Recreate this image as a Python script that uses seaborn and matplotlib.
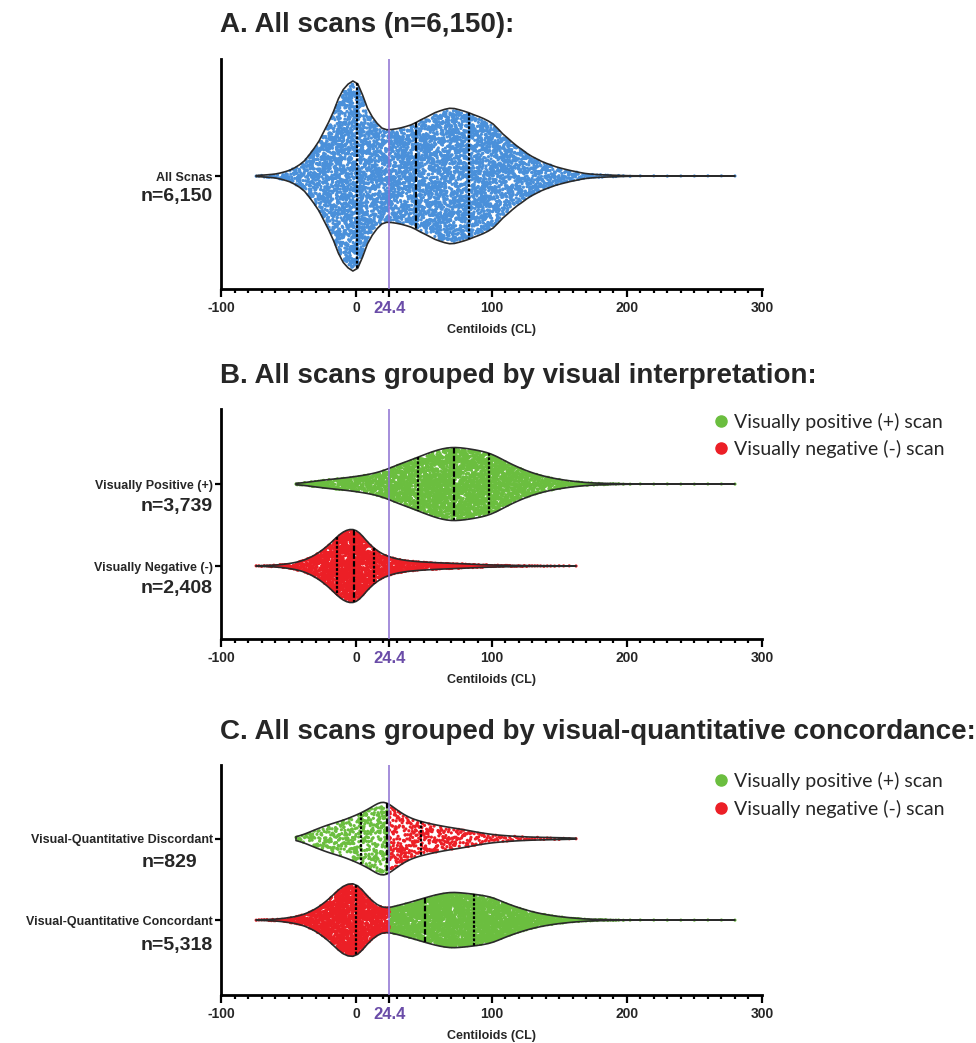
import matplotlib
matplotlib.use('Agg')
import matplotlib.pyplot as plt
from matplotlib.lines import Line2D
from matplotlib.ticker import MultipleLocator
import numpy as np
import pandas as pd
import seaborn as sns

# visual-read threshold on the centiloid scale
threshold = 24.4

# scan counts per 10 CL bin (bin centres)
neg_bins = list(range(-70, 170, 10))
neg_counts = [5, 11, 31, 65, 150, 290, 490, 540, 280, 150, 95, 68,
              55, 45, 37, 30, 21, 14, 10, 7, 5, 4, 3, 2]
pos_bins = list(range(-40, 290, 10))
pos_counts = [11, 31, 48, 61, 79, 101, 134, 200, 248, 306, 359, 392,
              376, 353, 324, 239, 172, 115, 76, 48, 29, 14, 8, 5, 2,
              1, 1, 1, 1, 1, 1, 1, 1]

row_a = ['All Scnas']
row_b = ['Visually Positive (+)', 'Visually Negative (-)']
row_c = ['Visual-Quantitative Discordant', 'Visual-Quantitative Concordant']
n_a = ['n=6,150']
n_b = ['n=3,739', 'n=2,408']
n_c = ['n=829', 'n=5,318']
xticks = [-100, 0, 24.4, 100, 200, 300]
xtick_labels = ['-100', '0', '24.4', '100', '200', '300']
legend_labels = ['Visually positive (+) scan', 'Visually negative (-) scan']

BLUE = '#4A90DA'
GREEN = '#6BBE3F'
RED = '#EC1F26'
PURPLE = '#8C6FD1'
PURPLE_TXT = '#6A4CA8'
JITTER = 0.4


def expand(bins, counts, width=10):
    parts = [c - width / 2 + (np.arange(n) + 0.5) * width / n for c, n in zip(bins, counts)]
    return np.concatenate(parts)


neg = expand(neg_bins, neg_counts)
pos = expand(pos_bins, pos_counts)
cl = np.concatenate([pos, neg])
read = np.array(['pos'] * len(pos) + ['neg'] * len(neg))
concordant = np.where(read == 'pos', cl >= threshold, cl < threshold)

df_a = pd.DataFrame({'cl': cl, 'read': read, 'row': row_a[0]})
df_b = pd.DataFrame({'cl': cl, 'read': read, 'row': np.where(read == 'pos', row_b[0], row_b[1])})
df_c = pd.DataFrame({'cl': cl, 'read': read, 'row': np.where(concordant, row_c[1], row_c[0])})

sns.set_style('ticks')
plt.rcParams['font.family'] = ['Liberation Sans', 'DejaVu Sans']
plt.rcParams['font.weight'] = 'bold'

W, H = 976, 1043
fig = plt.figure(figsize=(W / 100, H / 100), dpi=100)


def px_rect(left, top, right, bottom):
    return [left / W, 1 - bottom / H, (right - left) / W, (bottom - top) / H]


panels = [
    dict(df=df_a, order=row_a, nlab=n_a, rect=px_rect(221, 59, 762, 289),
         ylim=(1.378, -1.427), width=2.317, bw=0.45,
         colors={'pos': BLUE, 'neg': BLUE}, title='A. All scans (n=6,150):', title_y=32,
         n_off=[(-5.8, -15)], legend=None),
    dict(df=df_b, order=row_b, nlab=n_b, rect=px_rect(221, 409, 762, 639),
         ylim=(1.89, -0.915), width=0.89, bw=0.8,
         colors={'pos': GREEN, 'neg': RED}, title='B. All scans grouped by visual interpretation:',
         title_y=383, n_off=[(-5.8, -16.5), (-5.8, -16.5)], legend=(0.906, 0.985)),
    dict(df=df_c, order=row_c, nlab=n_c, rect=px_rect(221, 765, 762, 995),
         ylim=(1.92, -0.904), width=0.89, bw=0.55,
         colors={'pos': GREEN, 'neg': RED},
         title='C. All scans grouped by visual-quantitative concordance:',
         title_y=739, n_off=[(-17.3, -17.5), (-5.8, -18)], legend=(0.906, 0.97)),
]

for p in panels:
    ax = fig.add_axes(p['rect'])
    df = p['df']
    sns.violinplot(data=df, x='cl', y='row', order=p['order'], orient='y', ax=ax,
                   fill=False, color='#2a2a2a', linewidth=1.2, inner='quart',
                   inner_kws=dict(linewidth=1.6, color='black'),
                   cut=0, density_norm='width', width=p['width'], bw_adjust=p['bw'])

    # half-width profile of each violin, keyed by its category position
    outline = {}
    for poly in list(ax.collections):
        verts = poly.get_paths()[0].vertices
        k = int(round(verts[:, 1].mean()))
        idx = np.argsort(verts[:, 0])
        outline[k] = (verts[idx, 0], np.abs(verts[idx, 1] - k))
    before = list(ax.collections)

    sns.stripplot(data=df, x='cl', y='row', order=p['order'], orient='y', ax=ax,
                  hue='read', palette=p['colors'], jitter=JITTER, size=2.3,
                  linewidth=0, legend=False, zorder=0.8)

    # squeeze the strip jitter into the violin outline
    for coll in ax.collections:
        if coll in before:
            continue
        off = np.asarray(coll.get_offsets(), dtype=float)
        if len(off) == 0:
            continue
        k = np.round(off[:, 1])
        u = np.clip((off[:, 1] - k) / JITTER, -1, 1)
        half = np.zeros(len(off))
        for kk in np.unique(k):
            m = k == kk
            xs, hs = outline[int(kk)]
            half[m] = np.interp(off[m, 0], xs, hs)
        coll.set_offsets(np.column_stack([off[:, 0], k + u * half * 0.97]))

    ax.axvline(threshold, color=PURPLE, lw=1.1, zorder=3)

    ax.set_xlim(-100, 300)
    ax.set_ylim(*p['ylim'])
    ax.set_xticks(xticks)
    ax.set_xticklabels(xtick_labels)
    ax.xaxis.set_minor_locator(MultipleLocator(10))
    ax.tick_params(axis='x', which='major', length=5.5, width=1.6, labelsize=10, pad=3, color='black')
    ax.tick_params(axis='x', which='minor', length=3, width=1.6, color='black')
    ax.tick_params(axis='y', length=4, width=1.6, labelsize=9, pad=2, color='black')
    lbl = ax.get_xticklabels()[2]
    lbl.set_color(PURPLE_TXT)
    lbl.set_fontsize(12)
    ax.set_xlabel('Centiloids (CL)', fontsize=9, weight='bold', labelpad=6)
    ax.set_ylabel('')
    sns.despine(ax=ax)
    for side in ['left', 'bottom']:
        ax.spines[side].set_linewidth(2.0)
        ax.spines[side].set_color('black')

    for k, (txt, off) in enumerate(zip(p['nlab'], p['n_off'])):
        ax.annotate(txt, xy=(0, k), xycoords=ax.get_yaxis_transform(), xytext=off,
                    textcoords='offset points', ha='right', va='center',
                    fontsize=14, weight='bold')

    if p['legend'] is not None:
        handles = [Line2D([], [], marker='o', ls='', color=c, markersize=8, label=l)
                   for c, l in zip([GREEN, RED], legend_labels)]
        ax.legend(handles=handles, loc='upper left', bbox_to_anchor=p['legend'],
                  frameon=False, prop={'family': 'Lato', 'size': 14, 'weight': 'normal'},
                  handlelength=1.0, handletextpad=0.2, labelspacing=0.5,
                  borderpad=0, borderaxespad=0)

    fig.text(220 / W, 1 - p['title_y'] / H, p['title'], fontsize=20, weight='bold',
             ha='left', va='baseline')

fig.savefig('out.png', dpi=100)
